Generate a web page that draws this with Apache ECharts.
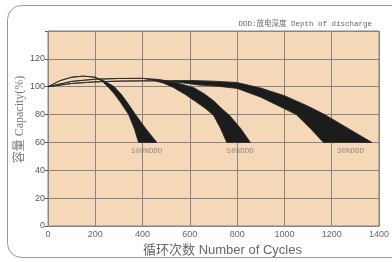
<!DOCTYPE html>
<html>
<head>
<meta charset="utf-8">
<script src="https://cdn.jsdelivr.net/npm/echarts@6/dist/echarts.min.js"></script>
<style>
  html, body { margin: 0; padding: 0; background: #fff; }
  #chart { width: 392px; height: 262px; }
</style>
</head>
<body>
<div id="chart"></div>
<script>
// 每条曲线带 (上沿/下沿), [循环次数, 容量%]; 起始段上下沿相同 -> 细线
const upper100 = [[0,100],[50,104.3],[100,106.8],[150,107.6],[200,106.8],[240,104],[280,100],[310,94.5],[340,87.5],[370,80],[413,70],[460,60]];
const lower100 = [[0,100],[50,104.3],[100,106.8],[150,107.6],[200,106.8],[230,103.8],[253,100],[280,95],[310,88],[341,80],[365,70],[383,60]];

const upper50 = [[0,100],[100,103.8],[200,105.4],[300,105.9],[400,106],[470,105.2],[540,103],[615,99.5],[660,95],[700,90],[740,83.5],[770,79],[815,70],[856,60]];
const lower50 = [[0,100],[100,103.8],[200,105.4],[300,105.9],[400,106],[440,104.8],[490,102.5],[530,99.5],[580,94.5],[623,89.5],[665,84.5],[700,79.5],[730,70],[756,60]];

const upper30 = [[0,100],[100,102.3],[200,103.5],[300,104],[400,104.2],[480,104.3],[600,104.5],[700,104],[800,103],[900,99],[1000,93.6],[1100,86],[1170,80],[1270,70],[1370,60]];
const lower30 = [[0,100],[100,102.3],[200,103.5],[300,104],[400,104.2],[480,104.2],[560,103],[640,101.2],[720,100.3],[800,98.8],[900,92.5],[1000,84.2],[1050,80],[1110,70],[1165,60]];

const bandNames = ['100%DDD', '50%DDD', '30%DDD'];
const labelX = [417, 813, 1279];
const labelY = 53.5;

const xTicks = [0, 200, 400, 600, 800, 1000, 1200, 1400];
const yTicks = [0, 20, 40, 60, 80, 100, 120];

const chart = echarts.init(document.getElementById('chart'));

function band(upper, lower) {
  return {
    type: 'custom',
    clip: true,
    silent: true,
    data: [upper[0]],
    renderItem: function (params, api) {
      const pts = upper.concat(lower.slice().reverse()).map(function (p) {
        return api.coord(p);
      });
      return {
        type: 'polygon',
        shape: { points: pts },
        style: { fill: '#1c1c1c', stroke: '#2a2a2a', lineWidth: 0.9 }
      };
    }
  };
}

const option = {
  animation: false,
  backgroundColor: '#fff',
  grid: {
    left: 48, right: 10, top: 31, bottom: 33,
    show: true,
    backgroundColor: '#f5d8b7',
    borderColor: '#858585',
    borderWidth: 1
  },
  graphic: [
    {
      type: 'rect',
      shape: { x: 7.5, y: 5.5, width: 420, height: 252, r: 14 },
      style: { fill: 'none', stroke: '#9a9a9a', lineWidth: 1 },
      z: -1
    },
    {
      type: 'text',
      right: 20,
      top: 20,
      style: {
        text: 'DDD:放电深度 Depth of discharge',
        font: '7.5px "Liberation Mono", "Noto Sans CJK SC"',
        fill: '#666'
      }
    }
  ],
  xAxis: {
    type: 'value',
    min: 0,
    max: 1400,
    interval: 200,
    name: '循环次数 Number of Cycles',
    nameLocation: 'middle',
    nameGap: 18,
    nameMoveOverlap: false,
    nameTextStyle: { fontSize: 13, color: '#666', fontFamily: '"Liberation Sans", "Noto Sans CJK SC"', padding: [0, 0, 0, 18] },
    axisLine: { show: true, lineStyle: { color: '#858585' } },
    axisTick: { show: false },
    axisLabel: {
      fontSize: 9, color: '#666', margin: 4, fontFamily: '"Liberation Sans"',
      formatter: function (v) { return xTicks.indexOf(v) >= 0 ? String(v) : ''; }
    },
    splitLine: { show: true, lineStyle: { color: '#858585', width: 1 } }
  },
  yAxis: {
    type: 'value',
    min: 0,
    max: 140,
    interval: 20,
    name: '容量 Capacity(%)',
    nameLocation: 'middle',
    nameGap: 22,
    nameMoveOverlap: false,
    nameTextStyle: { fontSize: 12, color: '#777', fontFamily: '"Liberation Serif", "Noto Sans CJK SC"', padding: [0, 0, 0, 18] },
    axisLine: { show: true, lineStyle: { color: '#858585' } },
    axisTick: { show: true, length: 3, lineStyle: { color: '#555' } },
    axisLabel: {
      fontSize: 9, color: '#555', margin: 3, fontFamily: '"Liberation Sans"',
      formatter: function (v) { return yTicks.indexOf(v) >= 0 ? String(v) : ''; }
    },
    splitLine: { show: true, lineStyle: { color: '#858585', width: 1 } }
  },
  series: [
    band(upper100, lower100),
    band(upper50, lower50),
    band(upper30, lower30),
    {
      type: 'scatter',
      silent: true,
      symbolSize: 0,
      data: bandNames.map(function (n, i) { return { value: [labelX[i], labelY], name: n }; }),
      label: {
        show: true,
        position: 'inside',
        formatter: '{b}',
        fontSize: 7.5,
        color: '#777',
        fontFamily: '"Liberation Mono"'
      }
    }
  ]
};

chart.setOption(option);
</script>
</body>
</html>
